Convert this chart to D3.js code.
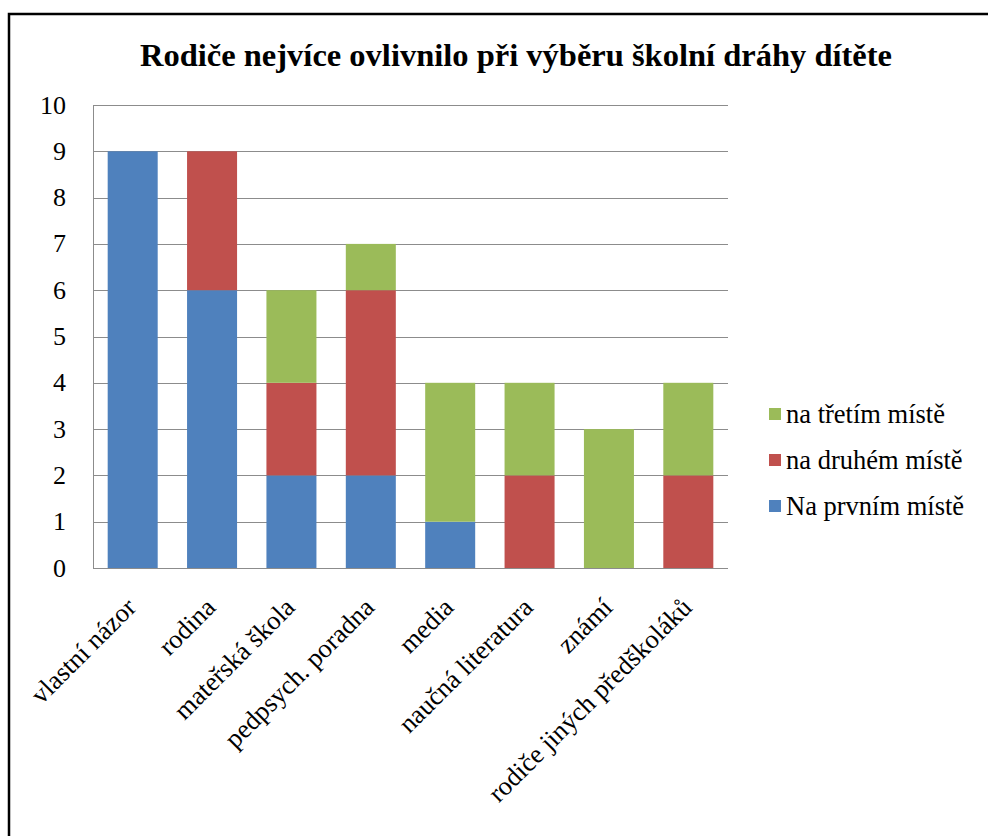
<!DOCTYPE html>
<html><head><meta charset="utf-8">
<script src="https://cdnjs.cloudflare.com/ajax/libs/d3/7.8.5/d3.min.js"></script>
<style>body{margin:0;background:#fff}svg{display:block}text{font-family:"Liberation Serif","Times New Roman",serif}</style>
</head><body>
<script>
const categories = ["vlastní názor","rodina","mateřská škola","pedpsych. poradna","media","naučná literatura","známí","rodiče jiných předškoláků"];
const seriesNames = ["Na prvním místě","na druhém místě","na třetím místě"];
const first  = [9,6,2,2,1,0,0,0];
const second = [0,3,2,4,0,2,0,2];
const third  = [0,0,2,1,3,2,3,2];
const yTicks = [0,1,2,3,4,5,6,7,8,9,10];
const colors = ["#4F81BD","#C0504D","#9BBB59"];
const title = "Rodiče nejvíce ovlivnilo při výběru školní dráhy dítěte";

const W=988,H=836;
const svg=d3.select("body").append("svg").attr("width",W).attr("height",H);

svg.append("rect").attr("x",9).attr("y",14).attr("width",1200).attr("height",1200)
  .attr("fill","#fff").attr("stroke","#000").attr("stroke-width",2.5);

svg.append("text").attr("x",516).attr("y",66).attr("text-anchor","middle")
  .attr("font-weight","bold").attr("font-size",32.5).text(title);

const x=d3.scaleBand().domain(categories).range([93,728]).paddingInner(0.37).paddingOuter(0.185);
const y=d3.scaleLinear().domain([0,10]).range([568,105]);

svg.append("g").selectAll("line").data(yTicks.filter(t=>t>0)).join("line")
  .attr("x1",93).attr("x2",728).attr("y1",d=>Math.round(y(d))+0.5).attr("y2",d=>Math.round(y(d))+0.5)
  .attr("stroke","#8c8c8c").attr("stroke-width",1);

const rows=categories.map((c,i)=>({cat:c,[seriesNames[0]]:first[i],[seriesNames[1]]:second[i],[seriesNames[2]]:third[i]}));
const stack=d3.stack().keys(seriesNames)(rows);
svg.append("g").selectAll("g").data(stack).join("g").attr("fill",(d,i)=>colors[i])
  .selectAll("rect").data(d=>d).join("rect")
  .attr("x",d=>x(d.data.cat)).attr("width",x.bandwidth())
  .attr("y",d=>y(d[1])).attr("height",d=>y(d[0])-y(d[1]));

svg.append("line").attr("x1",93.5).attr("x2",93.5).attr("y1",105).attr("y2",568).attr("stroke","#8c8c8c");
svg.append("line").attr("x1",93).attr("x2",728).attr("y1",568.5).attr("y2",568.5).attr("stroke","#8c8c8c");

svg.append("g").selectAll("text").data(yTicks).join("text")
  .attr("x",66).attr("y",d=>y(d)+8.5).attr("text-anchor","end")
  .attr("font-size",26).attr("fill","#000").text(d=>d);

svg.append("g").selectAll("text").data(categories).join("text")
  .attr("text-anchor","end").attr("font-size",26.5).attr("fill","#000")
  .attr("transform",d=>`translate(${x(d)+x.bandwidth()/2+5},${609}) rotate(-45)`).text(d=>d);

const leg=svg.append("g");
[2,1,0].forEach((s,i)=>{
  const cy=414+i*46;
  leg.append("rect").attr("x",769).attr("y",cy-6).attr("width",12).attr("height",12).attr("fill",colors[s]);
  leg.append("text").attr("x",786).attr("y",cy+8.5)
    .attr("font-size",26.5).attr("fill","#000").text(seriesNames[s]);
});
</script>
</body></html>
